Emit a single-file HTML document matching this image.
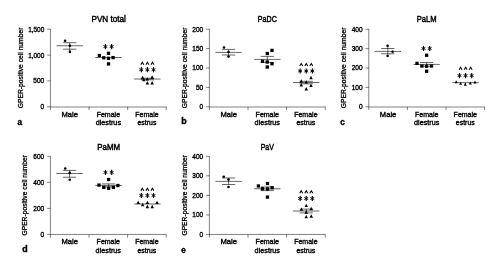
<!DOCTYPE html>
<html><head><meta charset="utf-8"><title>Figure</title>
<style>
html,body{margin:0;padding:0;background:#fff;}
svg{display:block;font-family:'Liberation Sans', sans-serif;}
text{fill:#000;stroke:#000;stroke-width:0.36px;}
svg{filter:grayscale(1);}
</style></head><body>
<svg width="502" height="272" viewBox="0 0 502 272">
<rect width="502" height="272" fill="#fff"/>
<g id="g">
<path d="M50.45 28.95V110.00" stroke="#1a1a1a" stroke-width="0.55" fill="none"/>
<path d="M50.20 107.00H166.50" stroke="#1a1a1a" stroke-width="0.55" fill="none"/>
<path d="M89.05 106.80V110.00" stroke="#1a1a1a" stroke-width="0.55" fill="none"/>
<path d="M127.65 106.80V110.00" stroke="#1a1a1a" stroke-width="0.55" fill="none"/>
<path d="M166.25 106.80V110.00" stroke="#1a1a1a" stroke-width="0.55" fill="none"/>
<path d="M47.15 106.80H50.45" stroke="#1a1a1a" stroke-width="0.55" fill="none"/>
<text x="44.25" y="109.25" font-size="7.3" text-anchor="end" font-weight="normal" textLength="3.65" lengthAdjust="spacingAndGlyphs" >0</text>
<path d="M47.15 80.93H50.45" stroke="#1a1a1a" stroke-width="0.55" fill="none"/>
<text x="44.25" y="83.38" font-size="7.3" text-anchor="end" font-weight="normal" textLength="10.95" lengthAdjust="spacingAndGlyphs" >500</text>
<path d="M47.15 55.07H50.45" stroke="#1a1a1a" stroke-width="0.55" fill="none"/>
<text x="44.25" y="57.52" font-size="7.3" text-anchor="end" font-weight="normal" textLength="16.10" lengthAdjust="spacingAndGlyphs" >1,000</text>
<path d="M47.15 29.20H50.45" stroke="#1a1a1a" stroke-width="0.55" fill="none"/>
<text x="44.25" y="31.65" font-size="7.3" text-anchor="end" font-weight="normal" textLength="16.10" lengthAdjust="spacingAndGlyphs" >1,500</text>
<text x="108.70" y="22.00" font-size="8.6" text-anchor="middle" font-weight="normal" textLength="34.40" lengthAdjust="spacingAndGlyphs" style="stroke-width:0.45px">PVN total</text>
<text x="23.20" y="67.90" font-size="6.7" text-anchor="middle" font-weight="normal" textLength="80.60" lengthAdjust="spacingAndGlyphs" style="stroke-width:0.3px" transform="rotate(-90 23.20 67.90)">GPER-positive cell number</text>
<text x="17.50" y="124.80" font-size="8.2" text-anchor="start" font-weight="bold"  >a</text>
<text x="69.75" y="116.60" font-size="7.3" text-anchor="middle" font-weight="normal" textLength="16.50" lengthAdjust="spacingAndGlyphs" >Male</text>
<text x="108.35" y="116.60" font-size="7.3" text-anchor="middle" font-weight="normal" textLength="23.40" lengthAdjust="spacingAndGlyphs" >Female</text>
<text x="108.35" y="124.80" font-size="7.3" text-anchor="middle" font-weight="normal" textLength="25.40" lengthAdjust="spacingAndGlyphs" >diestrus</text>
<text x="146.95" y="116.60" font-size="7.3" text-anchor="middle" font-weight="normal" textLength="23.40" lengthAdjust="spacingAndGlyphs" >Female</text>
<text x="146.95" y="124.80" font-size="7.3" text-anchor="middle" font-weight="normal" textLength="18.90" lengthAdjust="spacingAndGlyphs" >estrus</text>
<path d="M56.50 45.75H82.90" stroke="#000" stroke-width="0.6" fill="none"/>
<path d="M63.10 42.70H76.30" stroke="#000" stroke-width="0.6" fill="none"/>
<path d="M63.10 49.20H76.30" stroke="#000" stroke-width="0.6" fill="none"/>
<path d="M69.70 42.70V51.90" stroke="#000" stroke-width="0.6" fill="none"/>
<circle cx="65.10" cy="40.70" r="1.3" fill="#000"/>
<circle cx="69.90" cy="45.70" r="1.3" fill="#000"/>
<circle cx="69.90" cy="51.90" r="1.3" fill="#000"/>
<path d="M95.30 57.50H121.70" stroke="#000" stroke-width="0.6" fill="none"/>
<rect x="97.75" y="53.85" width="3.3" height="3.3" fill="#000"/>
<rect x="106.85" y="51.65" width="3.3" height="3.3" fill="#000"/>
<rect x="102.15" y="56.15" width="3.3" height="3.3" fill="#000"/>
<rect x="106.85" y="56.65" width="3.3" height="3.3" fill="#000"/>
<rect x="111.45" y="55.95" width="3.3" height="3.3" fill="#000"/>
<rect x="106.85" y="62.25" width="3.3" height="3.3" fill="#000"/>
<path d="M103.49 45.50L107.31 47.70" stroke="#000" stroke-width="0.95" fill="none"/>
<path d="M107.31 45.50L103.49 47.70" stroke="#000" stroke-width="0.95" fill="none"/>
<path d="M105.40 44.00V49.20" stroke="#000" stroke-width="1.15" fill="none"/>
<path d="M109.69 45.50L113.51 47.70" stroke="#000" stroke-width="0.95" fill="none"/>
<path d="M113.51 45.50L109.69 47.70" stroke="#000" stroke-width="0.95" fill="none"/>
<path d="M111.60 44.00V49.20" stroke="#000" stroke-width="1.15" fill="none"/>
<path d="M134.20 79.00H160.60" stroke="#000" stroke-width="0.6" fill="none"/>
<path d="M140.80 78.20H154.00" stroke="#000" stroke-width="0.6" fill="none"/>
<path d="M140.80 79.80H154.00" stroke="#000" stroke-width="0.6" fill="none"/>
<path d="M147.40 78.20V79.80" stroke="#000" stroke-width="0.6" fill="none"/>
<path d="M140.85 79.20L144.35 79.20L142.60 75.80Z" fill="#000"/>
<path d="M142.05 81.30L145.55 81.30L143.80 77.90Z" fill="#000"/>
<path d="M145.65 80.60L149.15 80.60L147.40 77.20Z" fill="#000"/>
<path d="M150.35 78.70L153.85 78.70L152.10 75.30Z" fill="#000"/>
<path d="M145.65 84.50L149.15 84.50L147.40 81.10Z" fill="#000"/>
<path d="M150.35 84.50L153.85 84.50L152.10 81.10Z" fill="#000"/>
<path d="M139.39 68.60L143.21 70.80" stroke="#000" stroke-width="0.95" fill="none"/>
<path d="M143.21 68.60L139.39 70.80" stroke="#000" stroke-width="0.95" fill="none"/>
<path d="M141.30 67.10V72.30" stroke="#000" stroke-width="1.15" fill="none"/>
<path d="M145.49 68.60L149.31 70.80" stroke="#000" stroke-width="0.95" fill="none"/>
<path d="M149.31 68.60L145.49 70.80" stroke="#000" stroke-width="0.95" fill="none"/>
<path d="M147.40 67.10V72.30" stroke="#000" stroke-width="1.15" fill="none"/>
<path d="M151.59 68.60L155.41 70.80" stroke="#000" stroke-width="0.95" fill="none"/>
<path d="M155.41 68.60L151.59 70.80" stroke="#000" stroke-width="0.95" fill="none"/>
<path d="M153.50 67.10V72.30" stroke="#000" stroke-width="1.15" fill="none"/>
<path d="M140.85 64.85L142.35 62.35L143.85 64.85" stroke="#000" stroke-width="1.05" stroke-linejoin="miter" fill="none"/>
<path d="M145.90 64.85L147.40 62.35L148.90 64.85" stroke="#000" stroke-width="1.05" stroke-linejoin="miter" fill="none"/>
<path d="M150.95 64.85L152.45 62.35L153.95 64.85" stroke="#000" stroke-width="1.05" stroke-linejoin="miter" fill="none"/>
<path d="M209.40 28.95V110.00" stroke="#1a1a1a" stroke-width="0.55" fill="none"/>
<path d="M209.15 107.00H325.45" stroke="#1a1a1a" stroke-width="0.55" fill="none"/>
<path d="M248.00 106.80V110.00" stroke="#1a1a1a" stroke-width="0.55" fill="none"/>
<path d="M286.60 106.80V110.00" stroke="#1a1a1a" stroke-width="0.55" fill="none"/>
<path d="M325.20 106.80V110.00" stroke="#1a1a1a" stroke-width="0.55" fill="none"/>
<path d="M206.10 106.80H209.40" stroke="#1a1a1a" stroke-width="0.55" fill="none"/>
<text x="203.20" y="109.25" font-size="7.3" text-anchor="end" font-weight="normal" textLength="3.65" lengthAdjust="spacingAndGlyphs" >0</text>
<path d="M206.10 87.40H209.40" stroke="#1a1a1a" stroke-width="0.55" fill="none"/>
<text x="203.20" y="89.85" font-size="7.3" text-anchor="end" font-weight="normal" textLength="7.30" lengthAdjust="spacingAndGlyphs" >50</text>
<path d="M206.10 68.00H209.40" stroke="#1a1a1a" stroke-width="0.55" fill="none"/>
<text x="203.20" y="70.45" font-size="7.3" text-anchor="end" font-weight="normal" textLength="10.95" lengthAdjust="spacingAndGlyphs" >100</text>
<path d="M206.10 48.60H209.40" stroke="#1a1a1a" stroke-width="0.55" fill="none"/>
<text x="203.20" y="51.05" font-size="7.3" text-anchor="end" font-weight="normal" textLength="10.95" lengthAdjust="spacingAndGlyphs" >150</text>
<path d="M206.10 29.20H209.40" stroke="#1a1a1a" stroke-width="0.55" fill="none"/>
<text x="203.20" y="31.65" font-size="7.3" text-anchor="end" font-weight="normal" textLength="10.95" lengthAdjust="spacingAndGlyphs" >200</text>
<text x="267.30" y="22.00" font-size="8.6" text-anchor="middle" font-weight="normal" textLength="19.00" lengthAdjust="spacingAndGlyphs" style="stroke-width:0.45px">PaDC</text>
<text x="186.90" y="67.90" font-size="6.7" text-anchor="middle" font-weight="normal" textLength="80.60" lengthAdjust="spacingAndGlyphs" style="stroke-width:0.3px" transform="rotate(-90 186.90 67.90)">GPER-positive cell number</text>
<text x="181.30" y="124.20" font-size="8.9" text-anchor="start" font-weight="bold"  >b</text>
<text x="228.70" y="116.60" font-size="7.3" text-anchor="middle" font-weight="normal" textLength="16.50" lengthAdjust="spacingAndGlyphs" >Male</text>
<text x="267.30" y="116.60" font-size="7.3" text-anchor="middle" font-weight="normal" textLength="23.40" lengthAdjust="spacingAndGlyphs" >Female</text>
<text x="267.30" y="124.80" font-size="7.3" text-anchor="middle" font-weight="normal" textLength="25.40" lengthAdjust="spacingAndGlyphs" >diestrus</text>
<text x="305.90" y="116.60" font-size="7.3" text-anchor="middle" font-weight="normal" textLength="23.40" lengthAdjust="spacingAndGlyphs" >Female</text>
<text x="305.90" y="124.80" font-size="7.3" text-anchor="middle" font-weight="normal" textLength="18.90" lengthAdjust="spacingAndGlyphs" >estrus</text>
<path d="M215.40 52.40H241.80" stroke="#000" stroke-width="0.6" fill="none"/>
<path d="M222.00 49.40H235.20" stroke="#000" stroke-width="0.6" fill="none"/>
<path d="M222.00 55.00H235.20" stroke="#000" stroke-width="0.6" fill="none"/>
<path d="M228.60 49.40V56.60" stroke="#000" stroke-width="0.6" fill="none"/>
<circle cx="224.00" cy="47.50" r="1.3" fill="#000"/>
<circle cx="228.50" cy="52.00" r="1.3" fill="#000"/>
<circle cx="228.50" cy="56.60" r="1.3" fill="#000"/>
<path d="M254.10 59.40H280.50" stroke="#000" stroke-width="0.6" fill="none"/>
<path d="M260.70 56.40H273.90" stroke="#000" stroke-width="0.6" fill="none"/>
<path d="M260.70 62.40H273.90" stroke="#000" stroke-width="0.6" fill="none"/>
<path d="M267.30 56.40V62.40" stroke="#000" stroke-width="0.6" fill="none"/>
<rect x="270.35" y="48.75" width="3.3" height="3.3" fill="#000"/>
<rect x="265.65" y="51.85" width="3.3" height="3.3" fill="#000"/>
<rect x="260.85" y="59.60" width="3.3" height="3.3" fill="#000"/>
<rect x="265.65" y="60.35" width="3.3" height="3.3" fill="#000"/>
<rect x="270.35" y="62.10" width="3.3" height="3.3" fill="#000"/>
<rect x="265.65" y="65.35" width="3.3" height="3.3" fill="#000"/>
<path d="M293.05 82.50H319.45" stroke="#000" stroke-width="0.6" fill="none"/>
<path d="M299.65 81.30H312.85" stroke="#000" stroke-width="0.6" fill="none"/>
<path d="M299.65 83.80H312.85" stroke="#000" stroke-width="0.6" fill="none"/>
<path d="M306.25 81.30V83.80" stroke="#000" stroke-width="0.6" fill="none"/>
<path d="M309.25 79.20L312.75 79.20L311.00 75.80Z" fill="#000"/>
<path d="M299.50 82.70L303.00 82.70L301.25 79.30Z" fill="#000"/>
<path d="M304.50 83.60L308.00 83.60L306.25 80.20Z" fill="#000"/>
<path d="M299.50 86.45L303.00 86.45L301.25 83.05Z" fill="#000"/>
<path d="M309.25 87.10L312.75 87.10L311.00 83.70Z" fill="#000"/>
<path d="M304.50 90.45L308.00 90.45L306.25 87.05Z" fill="#000"/>
<path d="M298.24 69.90L302.06 72.10" stroke="#000" stroke-width="0.95" fill="none"/>
<path d="M302.06 69.90L298.24 72.10" stroke="#000" stroke-width="0.95" fill="none"/>
<path d="M300.15 68.40V73.60" stroke="#000" stroke-width="1.15" fill="none"/>
<path d="M304.34 69.90L308.16 72.10" stroke="#000" stroke-width="0.95" fill="none"/>
<path d="M308.16 69.90L304.34 72.10" stroke="#000" stroke-width="0.95" fill="none"/>
<path d="M306.25 68.40V73.60" stroke="#000" stroke-width="1.15" fill="none"/>
<path d="M310.44 69.90L314.26 72.10" stroke="#000" stroke-width="0.95" fill="none"/>
<path d="M314.26 69.90L310.44 72.10" stroke="#000" stroke-width="0.95" fill="none"/>
<path d="M312.35 68.40V73.60" stroke="#000" stroke-width="1.15" fill="none"/>
<path d="M299.70 66.00L301.20 63.50L302.70 66.00" stroke="#000" stroke-width="1.05" stroke-linejoin="miter" fill="none"/>
<path d="M304.75 66.00L306.25 63.50L307.75 66.00" stroke="#000" stroke-width="1.05" stroke-linejoin="miter" fill="none"/>
<path d="M309.80 66.00L311.30 63.50L312.80 66.00" stroke="#000" stroke-width="1.05" stroke-linejoin="miter" fill="none"/>
<path d="M368.80 28.95V110.00" stroke="#1a1a1a" stroke-width="0.55" fill="none"/>
<path d="M368.55 107.00H484.85" stroke="#1a1a1a" stroke-width="0.55" fill="none"/>
<path d="M407.40 106.80V110.00" stroke="#1a1a1a" stroke-width="0.55" fill="none"/>
<path d="M446.00 106.80V110.00" stroke="#1a1a1a" stroke-width="0.55" fill="none"/>
<path d="M484.60 106.80V110.00" stroke="#1a1a1a" stroke-width="0.55" fill="none"/>
<path d="M365.50 106.80H368.80" stroke="#1a1a1a" stroke-width="0.55" fill="none"/>
<text x="362.60" y="109.25" font-size="7.3" text-anchor="end" font-weight="normal" textLength="3.65" lengthAdjust="spacingAndGlyphs" >0</text>
<path d="M365.50 87.40H368.80" stroke="#1a1a1a" stroke-width="0.55" fill="none"/>
<text x="362.60" y="89.85" font-size="7.3" text-anchor="end" font-weight="normal" textLength="10.95" lengthAdjust="spacingAndGlyphs" >100</text>
<path d="M365.50 68.00H368.80" stroke="#1a1a1a" stroke-width="0.55" fill="none"/>
<text x="362.60" y="70.45" font-size="7.3" text-anchor="end" font-weight="normal" textLength="10.95" lengthAdjust="spacingAndGlyphs" >200</text>
<path d="M365.50 48.60H368.80" stroke="#1a1a1a" stroke-width="0.55" fill="none"/>
<text x="362.60" y="51.05" font-size="7.3" text-anchor="end" font-weight="normal" textLength="10.95" lengthAdjust="spacingAndGlyphs" >300</text>
<path d="M365.50 29.20H368.80" stroke="#1a1a1a" stroke-width="0.55" fill="none"/>
<text x="362.60" y="31.65" font-size="7.3" text-anchor="end" font-weight="normal" textLength="10.95" lengthAdjust="spacingAndGlyphs" >400</text>
<text x="426.70" y="22.00" font-size="8.6" text-anchor="middle" font-weight="normal" textLength="19.80" lengthAdjust="spacingAndGlyphs" style="stroke-width:0.45px">PaLM</text>
<text x="345.60" y="67.90" font-size="6.7" text-anchor="middle" font-weight="normal" textLength="80.60" lengthAdjust="spacingAndGlyphs" style="stroke-width:0.3px" transform="rotate(-90 345.60 67.90)">GPER-positive cell number</text>
<text x="340.30" y="124.80" font-size="8.2" text-anchor="start" font-weight="bold"  >c</text>
<text x="388.10" y="116.60" font-size="7.3" text-anchor="middle" font-weight="normal" textLength="16.50" lengthAdjust="spacingAndGlyphs" >Male</text>
<text x="426.70" y="116.60" font-size="7.3" text-anchor="middle" font-weight="normal" textLength="23.40" lengthAdjust="spacingAndGlyphs" >Female</text>
<text x="426.70" y="124.80" font-size="7.3" text-anchor="middle" font-weight="normal" textLength="25.40" lengthAdjust="spacingAndGlyphs" >diestrus</text>
<text x="465.30" y="116.60" font-size="7.3" text-anchor="middle" font-weight="normal" textLength="23.40" lengthAdjust="spacingAndGlyphs" >Female</text>
<text x="465.30" y="124.80" font-size="7.3" text-anchor="middle" font-weight="normal" textLength="18.90" lengthAdjust="spacingAndGlyphs" >estrus</text>
<path d="M374.60 51.40H401.00" stroke="#000" stroke-width="0.6" fill="none"/>
<path d="M381.20 48.50H394.40" stroke="#000" stroke-width="0.6" fill="none"/>
<path d="M381.20 53.75H394.40" stroke="#000" stroke-width="0.6" fill="none"/>
<path d="M387.80 45.75V56.00" stroke="#000" stroke-width="0.6" fill="none"/>
<circle cx="387.60" cy="45.75" r="1.3" fill="#000"/>
<circle cx="392.60" cy="51.75" r="1.3" fill="#000"/>
<circle cx="387.60" cy="56.00" r="1.3" fill="#000"/>
<path d="M413.40 64.40H439.80" stroke="#000" stroke-width="0.6" fill="none"/>
<path d="M420.00 62.50H433.20" stroke="#000" stroke-width="0.6" fill="none"/>
<path d="M420.00 66.30H433.20" stroke="#000" stroke-width="0.6" fill="none"/>
<path d="M426.60 62.50V66.30" stroke="#000" stroke-width="0.6" fill="none"/>
<rect x="424.95" y="53.60" width="3.3" height="3.3" fill="#000"/>
<rect x="415.35" y="61.75" width="3.3" height="3.3" fill="#000"/>
<rect x="420.25" y="64.35" width="3.3" height="3.3" fill="#000"/>
<rect x="424.95" y="64.60" width="3.3" height="3.3" fill="#000"/>
<rect x="429.85" y="64.35" width="3.3" height="3.3" fill="#000"/>
<rect x="424.95" y="69.60" width="3.3" height="3.3" fill="#000"/>
<path d="M421.59 47.40L425.41 49.60" stroke="#000" stroke-width="0.95" fill="none"/>
<path d="M425.41 47.40L421.59 49.60" stroke="#000" stroke-width="0.95" fill="none"/>
<path d="M423.50 45.90V51.10" stroke="#000" stroke-width="1.15" fill="none"/>
<path d="M427.79 47.40L431.61 49.60" stroke="#000" stroke-width="0.95" fill="none"/>
<path d="M431.61 47.40L427.79 49.60" stroke="#000" stroke-width="0.95" fill="none"/>
<path d="M429.70 45.90V51.10" stroke="#000" stroke-width="1.15" fill="none"/>
<path d="M452.40 82.60H478.80" stroke="#000" stroke-width="0.6" fill="none"/>
<path d="M454.65 83.25L457.75 83.25L456.20 80.15Z" fill="#000"/>
<path d="M459.05 84.80L462.15 84.80L460.60 81.70Z" fill="#000"/>
<path d="M463.75 85.65L466.85 85.65L465.30 82.55Z" fill="#000"/>
<path d="M468.75 84.55L471.85 84.55L470.30 81.45Z" fill="#000"/>
<path d="M473.45 83.55L476.55 83.55L475.00 80.45Z" fill="#000"/>
<path d="M457.59 74.50L461.41 76.70" stroke="#000" stroke-width="0.95" fill="none"/>
<path d="M461.41 74.50L457.59 76.70" stroke="#000" stroke-width="0.95" fill="none"/>
<path d="M459.50 73.00V78.20" stroke="#000" stroke-width="1.15" fill="none"/>
<path d="M463.69 74.50L467.51 76.70" stroke="#000" stroke-width="0.95" fill="none"/>
<path d="M467.51 74.50L463.69 76.70" stroke="#000" stroke-width="0.95" fill="none"/>
<path d="M465.60 73.00V78.20" stroke="#000" stroke-width="1.15" fill="none"/>
<path d="M469.79 74.50L473.61 76.70" stroke="#000" stroke-width="0.95" fill="none"/>
<path d="M473.61 74.50L469.79 76.70" stroke="#000" stroke-width="0.95" fill="none"/>
<path d="M471.70 73.00V78.20" stroke="#000" stroke-width="1.15" fill="none"/>
<path d="M459.05 69.75L460.55 67.25L462.05 69.75" stroke="#000" stroke-width="1.05" stroke-linejoin="miter" fill="none"/>
<path d="M464.10 69.75L465.60 67.25L467.10 69.75" stroke="#000" stroke-width="1.05" stroke-linejoin="miter" fill="none"/>
<path d="M469.15 69.75L470.65 67.25L472.15 69.75" stroke="#000" stroke-width="1.05" stroke-linejoin="miter" fill="none"/>
<path d="M50.40 156.05V237.65" stroke="#1a1a1a" stroke-width="0.55" fill="none"/>
<path d="M50.15 234.45H166.45" stroke="#1a1a1a" stroke-width="0.55" fill="none"/>
<path d="M89.00 234.45V237.65" stroke="#1a1a1a" stroke-width="0.55" fill="none"/>
<path d="M127.60 234.45V237.65" stroke="#1a1a1a" stroke-width="0.55" fill="none"/>
<path d="M166.20 234.45V237.65" stroke="#1a1a1a" stroke-width="0.55" fill="none"/>
<path d="M47.10 234.45H50.40" stroke="#1a1a1a" stroke-width="0.55" fill="none"/>
<text x="44.20" y="236.90" font-size="7.3" text-anchor="end" font-weight="normal" textLength="3.65" lengthAdjust="spacingAndGlyphs" >0</text>
<path d="M47.10 208.40H50.40" stroke="#1a1a1a" stroke-width="0.55" fill="none"/>
<text x="44.20" y="210.85" font-size="7.3" text-anchor="end" font-weight="normal" textLength="10.95" lengthAdjust="spacingAndGlyphs" >200</text>
<path d="M47.10 182.35H50.40" stroke="#1a1a1a" stroke-width="0.55" fill="none"/>
<text x="44.20" y="184.80" font-size="7.3" text-anchor="end" font-weight="normal" textLength="10.95" lengthAdjust="spacingAndGlyphs" >400</text>
<path d="M47.10 156.30H50.40" stroke="#1a1a1a" stroke-width="0.55" fill="none"/>
<text x="44.20" y="158.75" font-size="7.3" text-anchor="end" font-weight="normal" textLength="10.95" lengthAdjust="spacingAndGlyphs" >600</text>
<text x="108.70" y="150.00" font-size="8.6" text-anchor="middle" font-weight="normal" textLength="22.90" lengthAdjust="spacingAndGlyphs" style="stroke-width:0.45px">PaMM</text>
<text x="27.40" y="195.28" font-size="6.7" text-anchor="middle" font-weight="normal" textLength="80.60" lengthAdjust="spacingAndGlyphs" style="stroke-width:0.3px" transform="rotate(-90 27.40 195.28)">GPER-positive cell number</text>
<text x="22.30" y="252.30" font-size="8.9" text-anchor="start" font-weight="bold"  >d</text>
<text x="69.70" y="243.90" font-size="7.3" text-anchor="middle" font-weight="normal" textLength="16.50" lengthAdjust="spacingAndGlyphs" >Male</text>
<text x="108.30" y="243.90" font-size="7.3" text-anchor="middle" font-weight="normal" textLength="23.40" lengthAdjust="spacingAndGlyphs" >Female</text>
<text x="108.30" y="252.95" font-size="7.3" text-anchor="middle" font-weight="normal" textLength="25.40" lengthAdjust="spacingAndGlyphs" >diestrus</text>
<text x="146.90" y="243.90" font-size="7.3" text-anchor="middle" font-weight="normal" textLength="23.40" lengthAdjust="spacingAndGlyphs" >Female</text>
<text x="146.90" y="252.95" font-size="7.3" text-anchor="middle" font-weight="normal" textLength="18.90" lengthAdjust="spacingAndGlyphs" >estrus</text>
<path d="M56.40 173.50H82.80" stroke="#000" stroke-width="0.6" fill="none"/>
<path d="M63.00 170.40H76.20" stroke="#000" stroke-width="0.6" fill="none"/>
<path d="M63.00 177.25H76.20" stroke="#000" stroke-width="0.6" fill="none"/>
<path d="M69.60 170.40V177.25" stroke="#000" stroke-width="0.6" fill="none"/>
<circle cx="65.25" cy="168.50" r="1.3" fill="#000"/>
<circle cx="69.75" cy="172.90" r="1.3" fill="#000"/>
<circle cx="69.75" cy="179.75" r="1.3" fill="#000"/>
<path d="M95.40 185.40H121.80" stroke="#000" stroke-width="0.6" fill="none"/>
<path d="M102.00 183.90H115.20" stroke="#000" stroke-width="0.6" fill="none"/>
<path d="M102.00 186.90H115.20" stroke="#000" stroke-width="0.6" fill="none"/>
<path d="M108.60 183.90V186.90" stroke="#000" stroke-width="0.6" fill="none"/>
<rect x="106.95" y="177.85" width="3.3" height="3.3" fill="#000"/>
<rect x="97.35" y="183.45" width="3.3" height="3.3" fill="#000"/>
<rect x="102.15" y="185.75" width="3.3" height="3.3" fill="#000"/>
<rect x="106.95" y="186.60" width="3.3" height="3.3" fill="#000"/>
<rect x="111.75" y="185.75" width="3.3" height="3.3" fill="#000"/>
<rect x="116.25" y="183.85" width="3.3" height="3.3" fill="#000"/>
<path d="M103.59 171.30L107.41 173.50" stroke="#000" stroke-width="0.95" fill="none"/>
<path d="M107.41 171.30L103.59 173.50" stroke="#000" stroke-width="0.95" fill="none"/>
<path d="M105.50 169.80V175.00" stroke="#000" stroke-width="1.15" fill="none"/>
<path d="M109.79 171.30L113.61 173.50" stroke="#000" stroke-width="0.95" fill="none"/>
<path d="M113.61 171.30L109.79 173.50" stroke="#000" stroke-width="0.95" fill="none"/>
<path d="M111.70 169.80V175.00" stroke="#000" stroke-width="1.15" fill="none"/>
<path d="M134.20 204.00H160.60" stroke="#000" stroke-width="0.6" fill="none"/>
<path d="M136.45 204.10L139.95 204.10L138.20 200.70Z" fill="#000"/>
<path d="M140.85 206.20L144.35 206.20L142.60 202.80Z" fill="#000"/>
<path d="M145.65 204.10L149.15 204.10L147.40 200.70Z" fill="#000"/>
<path d="M145.65 208.20L149.15 208.20L147.40 204.80Z" fill="#000"/>
<path d="M150.45 208.20L153.95 208.20L152.20 204.80Z" fill="#000"/>
<path d="M155.25 204.10L158.75 204.10L157.00 200.70Z" fill="#000"/>
<path d="M139.39 194.40L143.21 196.60" stroke="#000" stroke-width="0.95" fill="none"/>
<path d="M143.21 194.40L139.39 196.60" stroke="#000" stroke-width="0.95" fill="none"/>
<path d="M141.30 192.90V198.10" stroke="#000" stroke-width="1.15" fill="none"/>
<path d="M145.49 194.40L149.31 196.60" stroke="#000" stroke-width="0.95" fill="none"/>
<path d="M149.31 194.40L145.49 196.60" stroke="#000" stroke-width="0.95" fill="none"/>
<path d="M147.40 192.90V198.10" stroke="#000" stroke-width="1.15" fill="none"/>
<path d="M151.59 194.40L155.41 196.60" stroke="#000" stroke-width="0.95" fill="none"/>
<path d="M155.41 194.40L151.59 196.60" stroke="#000" stroke-width="0.95" fill="none"/>
<path d="M153.50 192.90V198.10" stroke="#000" stroke-width="1.15" fill="none"/>
<path d="M140.85 190.75L142.35 188.25L143.85 190.75" stroke="#000" stroke-width="1.05" stroke-linejoin="miter" fill="none"/>
<path d="M145.90 190.75L147.40 188.25L148.90 190.75" stroke="#000" stroke-width="1.05" stroke-linejoin="miter" fill="none"/>
<path d="M150.95 190.75L152.45 188.25L153.95 190.75" stroke="#000" stroke-width="1.05" stroke-linejoin="miter" fill="none"/>
<path d="M209.40 156.05V237.65" stroke="#1a1a1a" stroke-width="0.55" fill="none"/>
<path d="M209.15 234.45H325.45" stroke="#1a1a1a" stroke-width="0.55" fill="none"/>
<path d="M248.00 234.45V237.65" stroke="#1a1a1a" stroke-width="0.55" fill="none"/>
<path d="M286.60 234.45V237.65" stroke="#1a1a1a" stroke-width="0.55" fill="none"/>
<path d="M325.20 234.45V237.65" stroke="#1a1a1a" stroke-width="0.55" fill="none"/>
<path d="M206.10 234.45H209.40" stroke="#1a1a1a" stroke-width="0.55" fill="none"/>
<text x="203.20" y="236.90" font-size="7.3" text-anchor="end" font-weight="normal" textLength="3.65" lengthAdjust="spacingAndGlyphs" >0</text>
<path d="M206.10 214.91H209.40" stroke="#1a1a1a" stroke-width="0.55" fill="none"/>
<text x="203.20" y="217.36" font-size="7.3" text-anchor="end" font-weight="normal" textLength="10.95" lengthAdjust="spacingAndGlyphs" >100</text>
<path d="M206.10 195.38H209.40" stroke="#1a1a1a" stroke-width="0.55" fill="none"/>
<text x="203.20" y="197.82" font-size="7.3" text-anchor="end" font-weight="normal" textLength="10.95" lengthAdjust="spacingAndGlyphs" >200</text>
<path d="M206.10 175.84H209.40" stroke="#1a1a1a" stroke-width="0.55" fill="none"/>
<text x="203.20" y="178.29" font-size="7.3" text-anchor="end" font-weight="normal" textLength="10.95" lengthAdjust="spacingAndGlyphs" >300</text>
<path d="M206.10 156.30H209.40" stroke="#1a1a1a" stroke-width="0.55" fill="none"/>
<text x="203.20" y="158.75" font-size="7.3" text-anchor="end" font-weight="normal" textLength="10.95" lengthAdjust="spacingAndGlyphs" >400</text>
<text x="267.30" y="150.00" font-size="8.6" text-anchor="middle" font-weight="normal" textLength="13.10" lengthAdjust="spacingAndGlyphs" style="stroke-width:0.45px">PaV</text>
<text x="186.90" y="195.28" font-size="6.7" text-anchor="middle" font-weight="normal" textLength="80.60" lengthAdjust="spacingAndGlyphs" style="stroke-width:0.3px" transform="rotate(-90 186.90 195.28)">GPER-positive cell number</text>
<text x="181.30" y="252.90" font-size="8.2" text-anchor="start" font-weight="bold"  >e</text>
<text x="228.70" y="243.90" font-size="7.3" text-anchor="middle" font-weight="normal" textLength="16.50" lengthAdjust="spacingAndGlyphs" >Male</text>
<text x="267.30" y="243.90" font-size="7.3" text-anchor="middle" font-weight="normal" textLength="23.40" lengthAdjust="spacingAndGlyphs" >Female</text>
<text x="267.30" y="252.95" font-size="7.3" text-anchor="middle" font-weight="normal" textLength="25.40" lengthAdjust="spacingAndGlyphs" >diestrus</text>
<text x="305.90" y="243.90" font-size="7.3" text-anchor="middle" font-weight="normal" textLength="23.40" lengthAdjust="spacingAndGlyphs" >Female</text>
<text x="305.90" y="252.95" font-size="7.3" text-anchor="middle" font-weight="normal" textLength="18.90" lengthAdjust="spacingAndGlyphs" >estrus</text>
<path d="M215.40 181.40H241.80" stroke="#000" stroke-width="0.6" fill="none"/>
<path d="M222.00 178.00H235.20" stroke="#000" stroke-width="0.6" fill="none"/>
<path d="M222.00 184.50H235.20" stroke="#000" stroke-width="0.6" fill="none"/>
<path d="M228.60 178.00V184.50" stroke="#000" stroke-width="0.6" fill="none"/>
<circle cx="223.75" cy="176.75" r="1.3" fill="#000"/>
<circle cx="228.50" cy="179.50" r="1.3" fill="#000"/>
<circle cx="228.50" cy="187.00" r="1.3" fill="#000"/>
<path d="M254.10 188.75H280.50" stroke="#000" stroke-width="0.6" fill="none"/>
<path d="M260.70 186.90H273.90" stroke="#000" stroke-width="0.6" fill="none"/>
<path d="M260.70 190.60H273.90" stroke="#000" stroke-width="0.6" fill="none"/>
<path d="M267.30 186.90V190.60" stroke="#000" stroke-width="0.6" fill="none"/>
<rect x="256.75" y="184.35" width="3.3" height="3.3" fill="#000"/>
<rect x="265.85" y="181.85" width="3.3" height="3.3" fill="#000"/>
<rect x="260.85" y="187.10" width="3.3" height="3.3" fill="#000"/>
<rect x="265.85" y="187.35" width="3.3" height="3.3" fill="#000"/>
<rect x="270.45" y="186.10" width="3.3" height="3.3" fill="#000"/>
<rect x="265.85" y="195.45" width="3.3" height="3.3" fill="#000"/>
<path d="M293.05 211.00H319.45" stroke="#000" stroke-width="0.6" fill="none"/>
<path d="M299.65 209.10H312.85" stroke="#000" stroke-width="0.6" fill="none"/>
<path d="M299.65 212.90H312.85" stroke="#000" stroke-width="0.6" fill="none"/>
<path d="M306.25 209.10V212.90" stroke="#000" stroke-width="0.6" fill="none"/>
<path d="M304.50 207.10L308.00 207.10L306.25 203.70Z" fill="#000"/>
<path d="M299.75 210.80L303.25 210.80L301.50 207.40Z" fill="#000"/>
<path d="M309.50 210.20L313.00 210.20L311.25 206.80Z" fill="#000"/>
<path d="M304.50 213.70L308.00 213.70L306.25 210.30Z" fill="#000"/>
<path d="M304.50 218.30L308.00 218.30L306.25 214.90Z" fill="#000"/>
<path d="M309.50 217.70L313.00 217.70L311.25 214.30Z" fill="#000"/>
<path d="M298.24 197.40L302.06 199.60" stroke="#000" stroke-width="0.95" fill="none"/>
<path d="M302.06 197.40L298.24 199.60" stroke="#000" stroke-width="0.95" fill="none"/>
<path d="M300.15 195.90V201.10" stroke="#000" stroke-width="1.15" fill="none"/>
<path d="M304.34 197.40L308.16 199.60" stroke="#000" stroke-width="0.95" fill="none"/>
<path d="M308.16 197.40L304.34 199.60" stroke="#000" stroke-width="0.95" fill="none"/>
<path d="M306.25 195.90V201.10" stroke="#000" stroke-width="1.15" fill="none"/>
<path d="M310.44 197.40L314.26 199.60" stroke="#000" stroke-width="0.95" fill="none"/>
<path d="M314.26 197.40L310.44 199.60" stroke="#000" stroke-width="0.95" fill="none"/>
<path d="M312.35 195.90V201.10" stroke="#000" stroke-width="1.15" fill="none"/>
<path d="M299.70 193.25L301.20 190.75L302.70 193.25" stroke="#000" stroke-width="1.05" stroke-linejoin="miter" fill="none"/>
<path d="M304.75 193.25L306.25 190.75L307.75 193.25" stroke="#000" stroke-width="1.05" stroke-linejoin="miter" fill="none"/>
<path d="M309.80 193.25L311.30 190.75L312.80 193.25" stroke="#000" stroke-width="1.05" stroke-linejoin="miter" fill="none"/>
</g>
</svg>
</body></html>
